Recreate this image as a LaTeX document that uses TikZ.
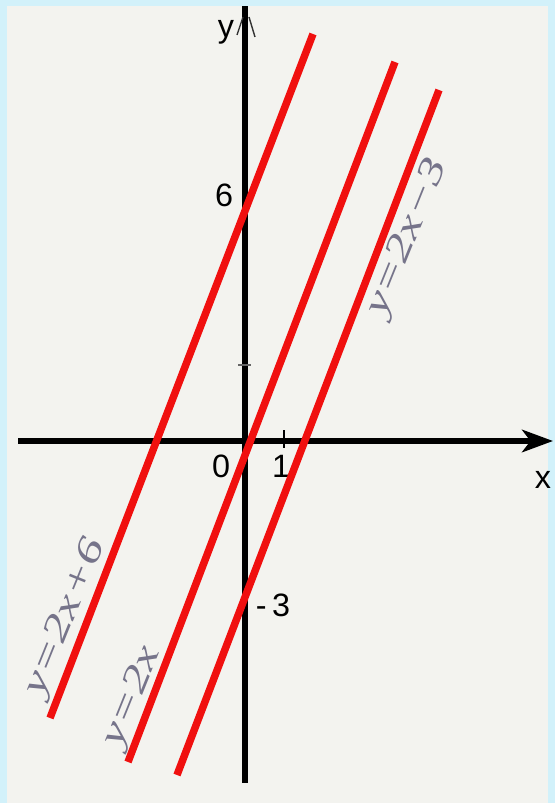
\documentclass[tikz,border=0pt]{standalone}
\usepackage{fontspec}
\setmainfont{Liberation Sans}
\newfontfamily\handfont{Liberation Serif}
\usetikzlibrary{arrows.meta}
\definecolor{framecol}{HTML}{D2F1FA}
\definecolor{papercol}{HTML}{F3F3EF}
\definecolor{pencil}{HTML}{76748A}
\definecolor{graphred}{HTML}{F0100F}

\begin{document}
\begin{tikzpicture}[x=0.025cm, y=0.025cm,
    graph/.style={line width=5.3pt, graphred},
    axis/.style={line width=3.6pt},
    num/.style={font=\fontsize{23}{27}\selectfont},
    hand/.style={pencil, font=\handfont\itshape\fontsize{26}{30}\selectfont, rotate=68}]
  \useasboundingbox (0,0) rectangle (555,803);
  \fill[framecol] (0,0) rectangle (555,803);
  \fill[papercol] (7,0) rectangle (548,797);

  % axes
  \coordinate (xstart) at (18,362);
  \coordinate (xend) at (553,362);
  \coordinate (ystart) at (245,20);
  \coordinate (yend) at (245,797);
  \draw[axis, -{Stealth[length=22pt, width=16pt, inset=6pt]}] (xstart) -- (xend);
  \draw[axis] (ystart) -- (yend);
  \draw[black!80, line width=1pt] (237,768) -- (243,786);
  \draw[black!80, line width=1pt] (249,786) -- (255,766);
  \draw[line width=1.2pt] (284,355) -- (284,373);
  \draw[black!60, line width=1.5pt] (238,438) -- (251,438);

  \node[num] (ylab) at (226,771) {y};
  \node[num] (xlab) at (543,323) {x};
  \node[num] (six) at (224,608) {6};
  \node[num] (zero) at (221,337) {0};
  \node[num] (one) at (281,337) {1};
  \node[num] (mthree) at (273,198) {-\,3};

  % the three lines
  \coordinate (a1) at (50,85);   \coordinate (b1) at (313,769);
  \coordinate (a2) at (128,41);  \coordinate (b2) at (395,741);
  \coordinate (a3) at (177,28);  \coordinate (b3) at (439,713);
  \draw[graph] (a1) -- (b1);
  \draw[graph] (a2) -- (b2);
  \draw[graph] (a3) -- (b3);

  \node[hand] (lab1) at (66,185) {\scalebox{1.4}[1]{y=2x+6}};
  \node[hand] (lab2) at (133,106) {\scalebox{1.4}[1]{y=2x}};
  \node[hand] (lab3) at (408,565) {\scalebox{1.4}[1]{y=2x−3}};
\end{tikzpicture}
\end{document}
